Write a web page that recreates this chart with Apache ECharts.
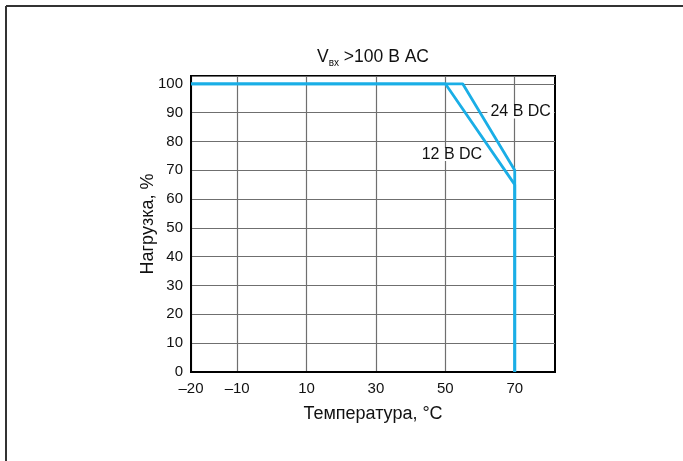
<!DOCTYPE html>
<html>
<head>
<meta charset="utf-8">
<script src="https://cdn.jsdelivr.net/npm/echarts@6/dist/echarts.min.js"></script>
<style>
html,body{margin:0;padding:0;background:#fff;}
#c{width:683px;height:461px;}
</style>
</head>
<body>
<div id="c"></div>
<script>
// ---- data ----
var xAxisMin = -23.3;          // left edge of the plot (labelled "–20")
var xAxisMax = 81.6;
var yAxisMax = 102.7;
var xTickValues = [-23.3, -10, 10, 30, 50, 70];
var xTickLabels = ['\u201320', '\u201310', '10', '30', '50', '70'];
var temp12 = [-23.3, 50, 70, 70];
var load12 = [100, 100, 65, 0];
var temp24 = [-23.3, 55, 70, 70];
var load24 = [100, 100, 70, 0];
var seriesNames = ['12 В DC', '24 В DC'];
var label12At = [51.9, 75.5];
var label24At = [71.7, 90.2];

function pairs(xs, ys) { return xs.map(function (x, i) { return [x, ys[i]]; }); }

var blue = '#1aaee6';
var gridColor = '#6f6f6f';
var font = 'Liberation Sans, Arial, Helvetica, sans-serif';

function lineSeries(name, xs, ys, labelAt) {
  return {
    name: name,
    type: 'line',
    data: pairs(xs, ys),
    symbol: 'none',
    lineStyle: { color: blue, width: 2.8 },
    z: 3,
    markPoint: {
      symbol: 'circle', symbolSize: 0,
      data: [{ coord: labelAt }],
      label: {
        show: true, position: 'inside',
        formatter: name.replace('В', 'B'),
        color: '#111', fontFamily: font, fontSize: 16,
        backgroundColor: '#fff', padding: [0, 3], lineHeight: 13
      },
      z: 4
    }
  };
}

var chart = echarts.init(document.getElementById('c'), null, { renderer: 'canvas' });
chart.setOption({
  animation: false,
  backgroundColor: '#fff',
  title: {
    text: '{a|V}{s|вх}{a| >100 B AC}',
    left: 373, top: 46, padding: 0, textAlign: 'center',
    textStyle: {
      fontWeight: 'normal',
      rich: {
        a: { fontFamily: font, fontSize: 17.5, fontWeight: 'normal', lineHeight: 22, color: '#111' },
        s: { fontFamily: font, fontSize: 10, fontWeight: 'normal', lineHeight: 13, verticalAlign: 'bottom', color: '#111' }
      }
    }
  },
  graphic: [
    { type: 'line', shape: { x1: 6, y1: 6, x2: 683, y2: 6 }, style: { stroke: '#333', lineWidth: 2 } },
    { type: 'line', shape: { x1: 6, y1: 6, x2: 6, y2: 461 }, style: { stroke: '#333', lineWidth: 2 } }
  ],
  grid: {
    left: 191, top: 76, width: 364, height: 296,
    show: true, borderColor: '#000', borderWidth: 2, backgroundColor: 'transparent'
  },
  xAxis: {
    type: 'value', min: xAxisMin, max: xAxisMax,
    name: 'Температура, °C', nameLocation: 'middle', nameGap: 33,
    nameMoveOverlap: false,
    nameTextStyle: { fontFamily: font, fontSize: 18, color: '#111' },
    axisLine: { show: true, onZero: false, lineStyle: { color: '#000', width: 2 } },
    axisTick: { show: false, customValues: xTickValues },
    axisLabel: {
      customValues: xTickValues,
      margin: 9, fontFamily: font, fontSize: 15, color: '#111',
      formatter: function (v) {
        for (var i = 0; i < xTickValues.length; i++) if (Math.abs(xTickValues[i] - v) < 1e-6) return xTickLabels[i];
        return '';
      }
    },
    splitLine: { show: true, lineStyle: { color: gridColor, width: 1.2 } }
  },
  yAxis: {
    type: 'value', min: 0, max: yAxisMax, interval: 10,
    name: 'Нагрузка, %', nameLocation: 'middle', nameGap: 34,
    nameMoveOverlap: false,
    nameTextStyle: { fontFamily: font, fontSize: 18, color: '#111' },
    axisLine: { show: true, onZero: false, lineStyle: { color: '#000', width: 2 } },
    axisTick: { show: false },
    axisLabel: { margin: 8, fontFamily: font, fontSize: 15, color: '#111', showMaxLabel: false },
    splitLine: { show: true, lineStyle: { color: gridColor, width: 1.2 } }
  },
  series: [
    lineSeries(seriesNames[0], temp12, load12, label12At),
    lineSeries(seriesNames[1], temp24, load24, label24At)
  ]
});
</script>
</body>
</html>
